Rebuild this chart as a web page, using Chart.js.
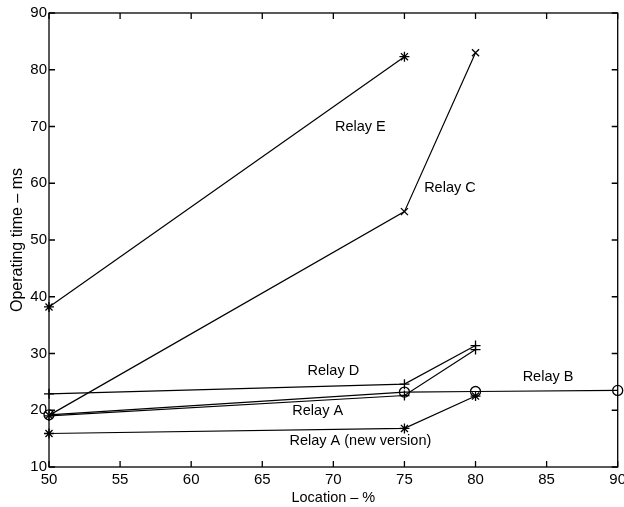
<!DOCTYPE html>
<html>
<head>
<meta charset="utf-8">
<script src="https://cdn.jsdelivr.net/npm/chart.js@4"></script>
<style>
  html, body { margin: 0; padding: 0; background: #fff; }
  #wrap { width: 624px; height: 507px; }
</style>
</head>
<body>
<div id="wrap"><canvas id="chart"></canvas></div>
<script>
// values
const locE = [50, 75];
const relayE = [38.2, 82.3];
const locC = [50, 75, 80];
const relayC = [19.1, 55, 83];
const locD = [50, 75, 80];
const relayD = [22.9, 24.6, 31.4];
const locA = [50, 75, 80];
const relayA = [19.0, 22.6, 30.7];
const locB = [50, 75, 80, 90];
const relayB = [19.2, 23.2, 23.3, 23.5];
const locANew = [50, 75, 80];
const relayANew = [15.9, 16.8, 22.5];

const xTicks = [50, 55, 60, 65, 70, 75, 80, 85, 90];
const yTicks = [10, 20, 30, 40, 50, 60, 70, 80, 90];

// curve labels, anchored in data units
const curveLabels = [
  { text: 'Relay E', x: 71.9, y: 70 },
  { text: 'Relay C', x: 78.2, y: 59.2 },
  { text: 'Relay D', x: 70, y: 26.9 },
  { text: 'Relay B', x: 85.1, y: 25.9 },
  { text: 'Relay A', x: 68.9, y: 19.9 },
  { text: 'Relay A (new version)', x: 71.9, y: 14.6 }
];

const FONT = '"Liberation Sans", Arial, sans-serif';

function pts(xs, ys) {
  return xs.map((x, i) => ({ x: x, y: ys[i] }));
}

function series(label, xs, ys, style) {
  return {
    label: label,
    data: pts(xs, ys),
    borderColor: '#000',
    backgroundColor: 'rgba(0,0,0,0)',
    borderWidth: 1.2,
    pointStyle: style,
    pointRadius: 5,
    pointBorderColor: '#000',
    pointBorderWidth: 1.3,
    clip: false,
    tension: 0
  };
}

const boxTicks = {
  id: 'boxTicks',
  afterDraw(chart) {
    const c = chart.ctx;
    const a = chart.chartArea;
    const xs = chart.scales.x, ys = chart.scales.y;
    const len = 6;
    c.save();
    c.strokeStyle = '#000';
    c.lineWidth = 1.3;
    c.strokeRect(a.left, a.top, a.right - a.left, a.bottom - a.top);
    c.beginPath();
    xTicks.forEach(v => {
      const p = xs.getPixelForValue(v);
      c.moveTo(p, a.bottom); c.lineTo(p, a.bottom - len);
      c.moveTo(p, a.top); c.lineTo(p, a.top + len);
    });
    yTicks.forEach(v => {
      const p = ys.getPixelForValue(v);
      c.moveTo(a.left, p); c.lineTo(a.left + len, p);
      c.moveTo(a.right, p); c.lineTo(a.right - len, p);
    });
    c.stroke();
    c.fillStyle = '#000';
    c.font = '14.5px ' + FONT;
    c.textAlign = 'center';
    c.textBaseline = 'middle';
    curveLabels.forEach(l => {
      c.fillText(l.text, xs.getPixelForValue(l.x), ys.getPixelForValue(l.y));
    });
    c.restore();
  }
};

new Chart(document.getElementById('chart'), {
  type: 'line',
  data: {
    datasets: [
      series('Relay E', locE, relayE, 'star'),
      series('Relay C', locC, relayC, 'crossRot'),
      series('Relay D', locD, relayD, 'cross'),
      series('Relay A', locA, relayA, 'cross'),
      series('Relay B', locB, relayB, 'circle'),
      series('Relay A (new version)', locANew, relayANew, 'star')
    ]
  },
  options: {
    responsive: true,
    maintainAspectRatio: false,
    animation: false,
    layout: { padding: { top: 13, right: 6, left: 0, bottom: 0 } },
    plugins: {
      legend: { display: false },
      tooltip: { enabled: false }
    },
    scales: {
      x: {
        type: 'linear',
        min: 50, max: 90,
        afterBuildTicks: s => { s.ticks = xTicks.map(v => ({ value: v })); },
        afterFit: s => { s.height = 40; s.paddingRight = 0; s.paddingLeft = 0; },
        grid: { display: false, drawTicks: false },
        border: { display: false },
        ticks: { color: '#000', font: { family: FONT, size: 15 }, padding: 4, maxRotation: 0 },
        title: { display: true, text: 'Location – %', color: '#000', font: { family: FONT, size: 14.5 }, padding: { top: 0, bottom: 0 } }
      },
      y: {
        type: 'linear',
        min: 10, max: 90,
        afterBuildTicks: s => { s.ticks = yTicks.map(v => ({ value: v })); },
        afterFit: s => { s.width = 49; s.paddingTop = 0; s.paddingBottom = 0; },
        grid: { display: false, drawTicks: false },
        border: { display: false },
        ticks: { color: '#000', font: { family: FONT, size: 15 }, padding: 2 },
        title: { display: true, text: 'Operating time – ms', color: '#000', font: { family: FONT, size: 16 }, padding: { top: 8, bottom: 0 } }
      }
    }
  },
  plugins: [boxTicks]
});
</script>
</body>
</html>
